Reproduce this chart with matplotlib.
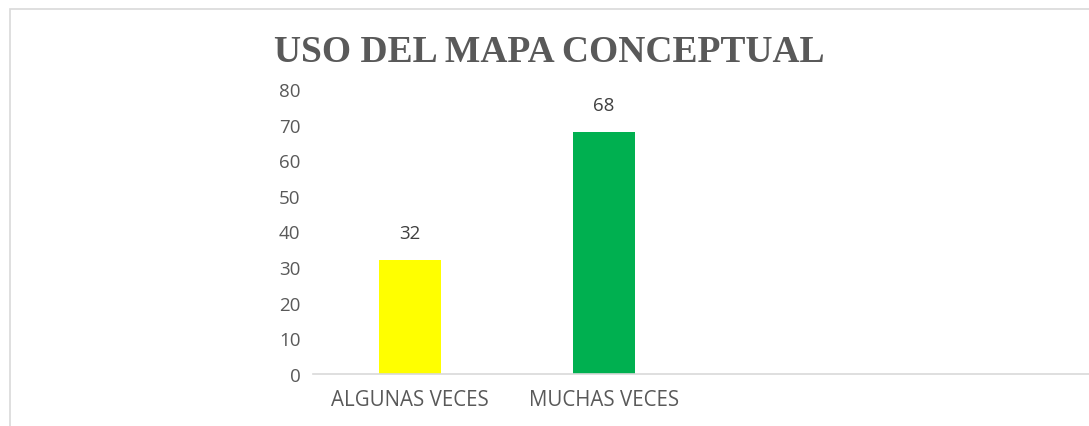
import matplotlib.pyplot as plt
from matplotlib.patches import Rectangle

categories = ['ALGUNAS VECES', 'MUCHAS VECES']
values = [32, 68]
colors = ['#FFFF00', '#00B050']
n_slots = 4  # the category axis leaves room for two empty slots
yticks = list(range(0, 90, 10))

W, H = 1089, 427
fig = plt.figure(figsize=(W / 100, H / 100), dpi=100)

# light chart border (runs off the right and bottom edges)
fig.patches.append(Rectangle((10 / W, -0.1), 1.2, (H - 10) / H + 0.1,
                             transform=fig.transFigure, fill=False,
                             edgecolor='#d9d9d9', lw=1.2))

ax = fig.add_axes([313 / W, (H - 375) / H, (W - 313) / W, 285 / H])
x = list(range(len(categories)))
bars = ax.bar(x, values, width=0.32, color=colors, zorder=2)
for b, v in zip(bars, values):
    ax.annotate(str(v), (b.get_x() + b.get_width() / 2, v), xytext=(0, 13),
                textcoords='offset points', ha='center', va='bottom',
                fontsize=13.5, color='#404040', family='Open Sans')

ax.set_xlim(-0.5, n_slots - 0.5)
ax.set_ylim(0, 80)
ax.set_yticks(yticks)
ax.set_xticks(x)
ax.set_xticklabels(categories)
for s in ['top', 'right', 'left']:
    ax.spines[s].set_visible(False)
ax.spines['bottom'].set_color('#d9d9d9')
ax.spines['bottom'].set_linewidth(1.2)
ax.tick_params(length=0, labelcolor='#595959')
ax.tick_params(axis='y', pad=9, labelsize=13.5)
ax.tick_params(axis='x', pad=11, labelsize=14.8)
for t in ax.get_xticklabels() + ax.get_yticklabels():
    t.set_family('Open Sans')

fig.text(549 / W, (H - 53) / H, 'USO DEL MAPA CONCEPTUAL', ha='center', va='center',
         fontsize=27, fontweight='bold', family='Liberation Serif', color='#595959')

plt.savefig('out.png', dpi=100)
